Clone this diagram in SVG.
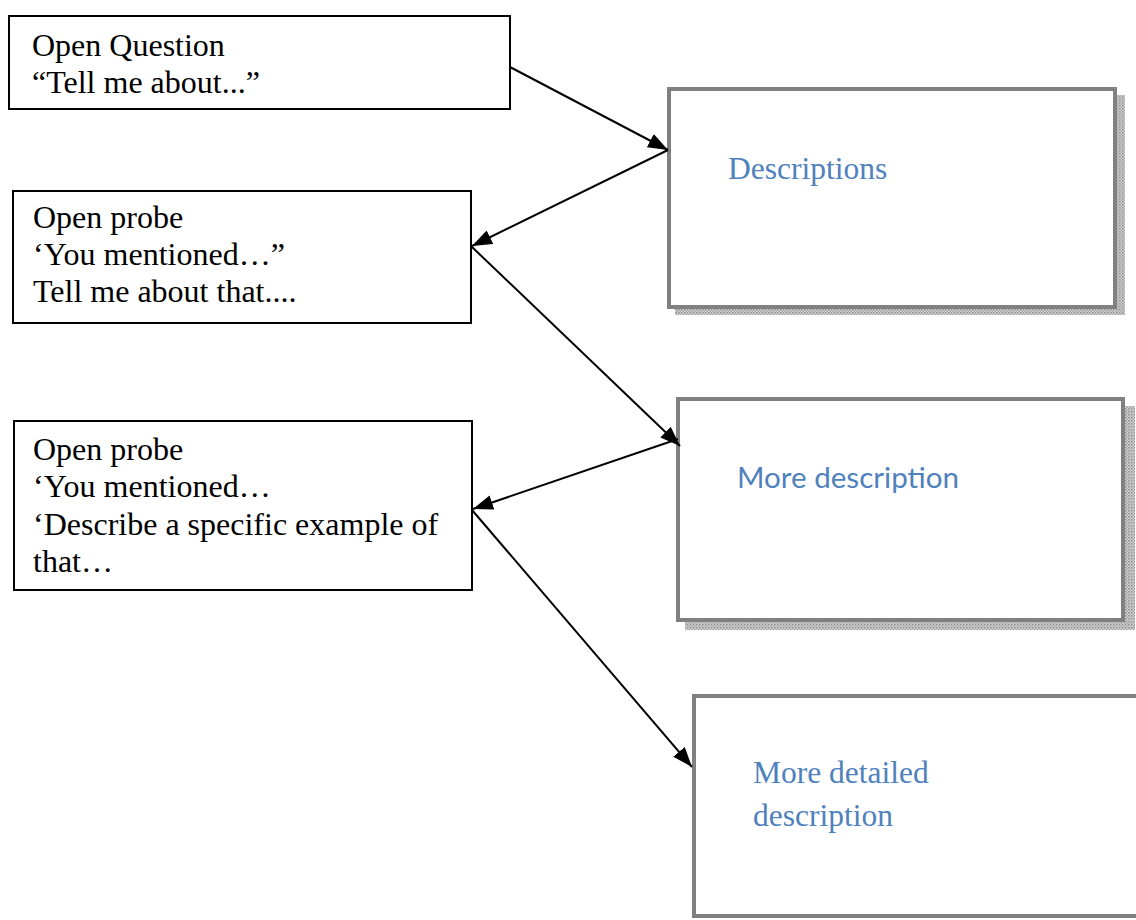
<svg xmlns="http://www.w3.org/2000/svg" width="1136" height="920" viewBox="0 0 1136 920">
<style>
.q{fill:#fff;stroke:#000;stroke-width:2}
.r{fill:#fff;stroke:#808080;stroke-width:4}
.sh{fill:url(#chk)}
.t{font-family:"Liberation Serif","Times New Roman",serif;font-size:32px;fill:#000}
.b{font-family:"Liberation Serif","Times New Roman",serif;font-size:31.5px;fill:#4F81BD}
.s{font-family:Lato,"Open Sans",sans-serif;font-size:29.6px;fill:#4F81BD}
.c{stroke:#000;stroke-width:2;fill:none;marker-end:url(#ah)}
</style>
<defs>
<pattern id="chk" width="3" height="3" patternUnits="userSpaceOnUse">
<rect width="3" height="3" fill="#d4d4d4"/>
<rect width="1.5" height="1.5" fill="#8a8a8a"/>
<rect x="1.5" y="1.5" width="1.5" height="1.5" fill="#a8a8a8"/>
</pattern>
<marker id="ah" viewBox="0 0 20 15" refX="20" refY="7.5" markerWidth="20" markerHeight="15" markerUnits="userSpaceOnUse" orient="auto">
<path d="M0,0 L20,7.5 L0,15 Z" fill="#000"/>
</marker>
</defs>
<g id="n-open-question">
<rect class="q" x="9" y="16" width="501" height="93"/>
<text class="t" x="32" y="56">Open Question</text>
<text class="t" x="32" y="93">“Tell me about...”</text>
</g>
<g id="n-open-probe-1">
<rect class="q" x="13" y="191" width="458" height="132"/>
<text class="t" x="33" y="228">Open probe</text>
<text class="t" x="33" y="265">‘You mentioned…”</text>
<text class="t" x="33" y="302">Tell me about that....</text>
</g>
<g id="n-open-probe-2">
<rect class="q" x="14" y="421" width="458" height="169"/>
<text class="t" x="33" y="460">Open probe</text>
<text class="t" x="33" y="497">‘You mentioned…</text>
<text class="t" x="33" y="535">‘Describe a specific example of</text>
<text class="t" x="33" y="572">that…</text>
</g>
<g id="n-descriptions">
<rect class="sh" x="675" y="95" width="450" height="220"/>
<rect class="r" x="669" y="89" width="446" height="218"/>
<text class="b" x="728" y="179">Descriptions</text>
</g>
<g id="n-more-description">
<rect class="sh" x="685" y="406" width="450" height="224"/>
<rect class="r" x="678" y="399" width="445" height="221"/>
<text class="s" x="737" y="488">More description</text>
</g>
<g id="n-more-detailed">
<rect class="r" x="694" y="696" width="460" height="220"/>
<text class="b" x="753" y="783">More detailed</text>
<text class="b" x="753" y="826">description</text>
</g>
<g id="connectors">
<line class="c" x1="510" y1="67" x2="668" y2="150"/>
<line class="c" x1="668" y1="150" x2="472" y2="246"/>
<line class="c" x1="472" y1="247" x2="680" y2="446"/>
<line class="c" x1="678" y1="439" x2="473" y2="509"/>
<line class="c" x1="472" y1="510" x2="692" y2="767"/>
</g>
</svg>
